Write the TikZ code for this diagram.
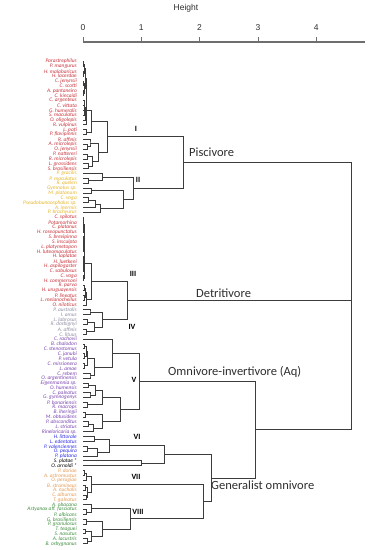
\documentclass[tikz,border=0pt]{standalone}
\usepackage{fontspec}
\setmainfont{Carlito}
\newfontfamily\axisfont{Liberation Sans}
\usepackage{xcolor}
\usepackage{tikz}
\usetikzlibrary{calc}
\definecolor{piscred}{HTML}{C8323A}
\definecolor{piscyel}{HTML}{E5B52A}
\definecolor{detgrey}{HTML}{8E8EA6}
\definecolor{omnpur}{HTML}{7A43B0}
\definecolor{omnblue}{HTML}{2B2BE6}
\definecolor{genorg}{HTML}{E39A55}
\definecolor{gengrn}{HTML}{3E8E3E}
\definecolor{treeline}{HTML}{3C3C3C}
\definecolor{axisgrey}{HTML}{6E6E6E}
\definecolor{guildgrey}{HTML}{2E2E2E}
\tikzset{
  leaf/.style={font=\fontsize{5.4}{5.4}\selectfont\itshape, anchor=east, inner sep=0pt},
  branch/.style={draw=treeline, line width=0.8pt},
  axisline/.style={draw=axisgrey, line width=1.4pt},
  axislab/.style={font=\axisfont\fontsize{8.5}{9}\selectfont, text=guildgrey, inner sep=0pt},
  clustlab/.style={font=\fontsize{8}{8}\selectfont\bfseries, text=black, inner sep=0pt},
  guildlab/.style={font=\fontsize{12.5}{13}\selectfont, text=guildgrey, anchor=west, inner sep=0pt},
}
\newcommand\mrg[4]{%
  \path let \p1=(#2), \p2=(#3) in coordinate (#1) at ({83+58.3*#4}, {0.5*(\y1+\y2)});%
  \draw[branch] (#2) -| (#1) |- (#3);}
\begin{document}
\begin{tikzpicture}[x=1pt, y=-1pt]
  \useasboundingbox (0,0) rectangle (372,550);
  \node[axislab] (htitle) at (186,8) {Height};
  \draw[axisline] (83,42) -- (365,42);
  \foreach \h in {0,...,4} {
    \draw[axisline, line width=0.8pt] ({83+58.3*\h},37) -- ({83+58.3*\h},42);
    \node[axislab] (tk\h) at ({83+58.3*\h},28) {\h};
  }
  \foreach \spc/\grp [count=\i] in {
    Parastrephilus/piscred, P. mangurus/piscred, H. malabaricus/piscred, H. lacerdae/piscred,
    C. jenynsii/piscred, C. scotti/piscred, A. pantaneiro/piscred, C. kincaidi/piscred,
    C. argenteus/piscred, C. vittata/piscred, G. humeralis/piscred, S. maculatus/piscred,
    O. oligolepis/piscred, R. vulpinus/piscred, L. pati/piscred, P. flavipinnis/piscred,
    R. affinis/piscred, A. microlepis/piscred, O. jenynsii/piscred, P. nattereri/piscred,
    R. microlepis/piscred, L. grossidens/piscred, S. brasiliensis/piscred,
    P. gracilis/piscyel, P. maculatus/piscyel, R. quelen/piscyel, Gymnotus sp./piscyel,
    M. platanum/piscyel, C. voga/piscyel, Pseudobunocephalus sp./piscyel, A. inermis/piscyel,
    P. brachyurus/piscyel,
    C. spilotus/piscred, Potamorhina/piscred, C. platanus/piscred, H. roseopunctatus/piscred,
    S. brevipinna/piscred, S. insculpta/piscred, L. platymetopon/piscred, H. luteomaculatus/piscred,
    H. laplatae/piscred, H. luetkeni/piscred, H. aspilogaster/piscred, C. sabulosus/piscred,
    C. voga/piscred, H. commersoni/piscred, R. parva/piscred, H. uruguayensis/piscred,
    P. lineatus/piscred, L. melanocheilus/piscred, O. niloticus/piscred,
    P. australis/detgrey, I. amus/detgrey, L. labrosus/detgrey, R. dorbignyi/detgrey,
    A. affinis/detgrey, C. lituus/detgrey,
    C. rachovii/omnpur, B. chalodon/omnpur, C. stenostomus/omnpur, C. janubi/omnpur,
    P. vetula/omnpur, C. missionera/omnpur, L. amae/omnpur, C. rebem/omnpur,
    O. argentinensis/omnpur, Eigenmannia sp./omnpur, O. humensis/omnpur, C. paleatus/omnpur,
    G. gymnogenys/omnpur, P. bonariensis/omnpur, R. macrops/omnpur, B. iheringii/omnpur,
    M. obtusidens/omnpur, P. absconditus/omnpur, L. striatus/omnpur, Rineloricaria sp./omnpur,
    H. littorale/omnblue, L. edentatus/omnblue, P. valenciennes/omnblue, O. pequira/omnblue,
    P. platana/omnblue,
    S. platae */black, O. arnoldi */black,
    P. doriae/genorg, A. astromustus/genorg, O. perugiae/genorg, B. stramineus/genorg,
    A. nuchalis/genorg, C. alburnus/genorg, T. galeatus/genorg,
    A. obacana/gengrn, Astyanax aff. fasciatus/gengrn, P. albicans/gengrn, G. brasiliensis/gengrn,
    P. granulosus/gengrn, T. teaguei/gengrn, S. nasutus/gengrn, A. lacustris/gengrn,
    B. orbygnanus/gengrn} {
    \coordinate (l\i) at (83, {61.5+(\i-1)*4.87});
    \node[leaf, text=\grp] (n\i) at (77, {61.5+(\i-1)*4.87}) {\spc};
  }
  \mrg{a1}{l1}{l2}{.01}
  \mrg{a2}{l3}{l4}{.01}
  \mrg{a3}{a1}{a2}{.02}
  \mrg{a4}{l5}{l6}{.01}
  \mrg{a5}{l7}{l8}{.015}
  \mrg{a6}{a4}{a5}{.025}
  \mrg{a7}{a3}{a6}{.035}
  \mrg{a8}{l9}{l10}{.02}
  \mrg{a9}{l11}{l12}{.02}
  \mrg{a10}{a8}{a9}{.03}
  \mrg{a11}{a10}{l13}{.04}
  \mrg{a12}{a7}{a11}{.05}
  \mrg{a13}{a12}{l14}{.06}
  \mrg{a14}{l15}{l16}{.06}
  \mrg{a15}{a13}{a14}{.14}
  \mrg{a16}{l18}{l19}{.08}
  \mrg{a17}{l20}{l21}{.07}
  \mrg{a18}{l22}{l23}{.09}
  \mrg{a19}{a17}{a18}{.16}
  \mrg{a20}{l17}{a16}{.12}
  \mrg{a21}{a20}{a19}{.27}
  \mrg{clI}{a15}{a21}{.41}
  \mrg{b1}{l25}{l26}{.1}
  \mrg{b2}{l24}{b1}{.34}
  \mrg{b3}{l27}{l28}{.14}
  \mrg{b4}{l29}{l30}{.1}
  \mrg{b5}{b4}{l31}{.22}
  \mrg{b6}{b5}{l32}{.3}
  \mrg{b7}{b3}{b6}{.69}
  \mrg{clII}{b2}{b7}{.87}
  \mrg{pisc}{clI}{clII}{1.73}
  \mrg{c1}{l33}{l34}{.005}
  \mrg{c2}{l35}{l36}{.005}
  \mrg{c3}{c1}{c2}{.01}
  \mrg{c4}{l37}{l38}{.005}
  \mrg{c5}{l39}{l40}{.008}
  \mrg{c6}{c4}{c5}{.012}
  \mrg{c7}{c3}{c6}{.018}
  \mrg{c8}{l41}{l42}{.006}
  \mrg{c9}{l43}{l44}{.01}
  \mrg{c10}{c8}{c9}{.015}
  \mrg{c11}{l45}{l46}{.012}
  \mrg{c12}{c7}{c10}{.025}
  \mrg{c13}{c12}{c11}{.03}
  \mrg{c14}{l47}{l48}{.02}
  \mrg{c15}{l49}{l50}{.03}
  \mrg{c16}{c14}{c15}{.045}
  \mrg{c17}{c16}{l51}{.06}
  \mrg{clIII}{c13}{c17}{.14}
  \mrg{d1}{l52}{l53}{.12}
  \mrg{d2}{l54}{l55}{.08}
  \mrg{d3}{l56}{l57}{.05}
  \mrg{d4}{d2}{d3}{.2}
  \mrg{clIV}{d1}{d4}{.34}
  \mrg{detr}{clIII}{clIV}{.76}
  \mrg{e1}{l59}{l60}{.02}
  \mrg{e2}{l61}{l62}{.03}
  \mrg{e3}{e1}{e2}{.05}
  \mrg{e4}{l63}{l64}{.03}
  \mrg{e5}{e3}{e4}{.07}
  \mrg{e6}{l65}{l66}{.12}
  \mrg{e7}{e5}{e6}{.2}
  \mrg{e8}{l58}{e7}{.5}
  \mrg{e9}{l67}{l68}{.1}
  \mrg{e10}{l69}{l70}{.12}
  \mrg{e11}{e9}{e10}{.22}
  \mrg{e12}{l71}{l72}{.08}
  \mrg{e13}{e11}{e12}{.33}
  \mrg{e14}{l73}{l74}{.04}
  \mrg{e15}{l75}{l76}{.1}
  \mrg{e16}{e15}{l77}{.18}
  \mrg{e17}{e14}{e16}{.33}
  \mrg{e18}{e13}{e17}{.65}
  \mrg{clV}{e8}{e18}{.97}
  \mrg{f1}{l78}{l79}{.2}
  \mrg{f2}{l80}{l81}{.08}
  \mrg{f3}{f2}{l82}{.25}
  \mrg{clVI}{f1}{f3}{.46}
  \mrg{f4}{l83}{l84}{1.0}
  \mrg{f5}{clVI}{f4}{1.4}
  \mrg{g1}{l85}{l86}{.03}
  \mrg{g2}{g1}{l87}{.06}
  \mrg{g3}{l88}{l89}{.04}
  \mrg{g4}{l90}{l91}{.05}
  \mrg{g5}{g3}{g4}{.08}
  \mrg{clVII}{g2}{g5}{.14}
  \mrg{k1}{l93}{l94}{.06}
  \mrg{k2}{l92}{k1}{.15}
  \mrg{k3}{l95}{l96}{.05}
  \mrg{k4}{l97}{l98}{.04}
  \mrg{k5}{l99}{l100}{.07}
  \mrg{k6}{k4}{k5}{.15}
  \mrg{k7}{k3}{k6}{.33}
  \mrg{clVIII}{k2}{k7}{.82}
  \mrg{g6}{clVII}{clVIII}{2.06}
  \mrg{genom}{f5}{g6}{2.2}
  \mrg{omniv}{clV}{genom}{2.95}
  \mrg{pd}{pisc}{detr}{4.61}
  \mrg{root}{pd}{omniv}{4.61}
  \node[clustlab] (tI) at (136,129) {I};
  \node[clustlab] (tII) at (138,180) {II};
  \node[clustlab] (tIII) at (133,274) {III};
  \node[clustlab] (tIV) at (132,327) {IV};
  \node[clustlab] (tV) at (134,380) {V};
  \node[clustlab] (tVI) at (137,437) {VI};
  \node[clustlab] (tVII) at (136,477) {VII};
  \node[clustlab] (tVIII) at (138,512) {VIII};
  \node[guildlab] (gpisc) at (189,152) {Piscivore};
  \node[guildlab] (gdetr) at (196,293) {Detritivore};
  \node[guildlab] (gomni) at (168,372) {Omnivore-invertivore (Aq)};
  \node[guildlab] (ggen) at (211,485) {Generalist omnivore};
\end{tikzpicture}
\end{document}
